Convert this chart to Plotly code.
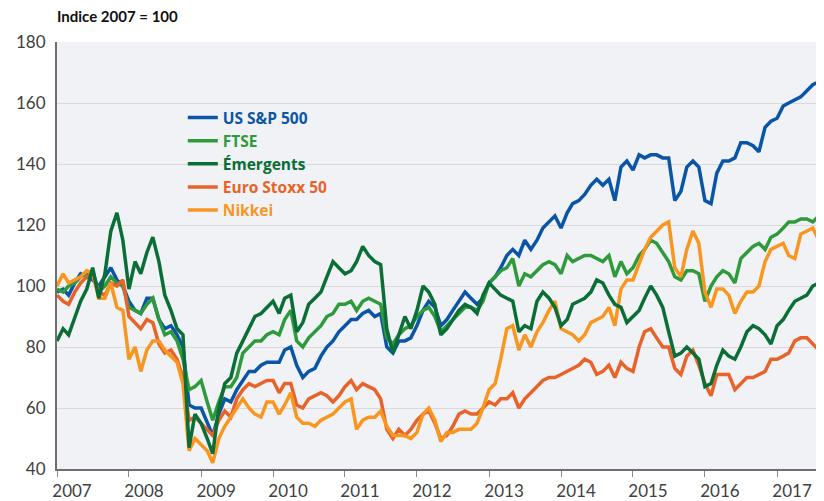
import pandas as pd
import plotly.graph_objects as go

# Monthly observations, Jan 2007 .. Aug 2017 (index 2007 = 100)
dates = pd.date_range("2007-01-01", periods=128, freq="MS")

sp500 = [
    98, 99, 97, 101, 104, 103, 102, 100, 103, 106, 102, 100,
    95, 92, 91, 96, 96, 89, 86, 87, 84, 80, 61, 60,
    60, 55, 51, 58, 63, 62, 66, 69, 72, 72, 74, 75,
    75, 75, 79, 80, 74, 70, 72, 73, 77, 80, 82, 85,
    87, 89, 89, 91, 92, 90, 91, 80, 78, 82, 82, 83,
    87, 92, 95, 93, 87, 89, 92, 95, 98, 96, 94, 96,
    101, 103, 106, 110, 112, 110, 115, 112, 115, 119, 121, 123,
    119, 124, 127, 128, 130, 133, 135, 133, 135, 128, 139, 141,
    138, 143, 142, 143, 143, 142, 142, 128, 131, 139, 141, 139,
    128, 127, 137, 141, 141, 142, 147, 147, 146, 144, 152, 154,
    155, 159, 160, 161, 162, 164, 166, 167,
]
ftse = [
    99, 98, 100, 101, 103, 104, 105, 98, 100, 103, 101, 100,
    93, 92, 91, 94, 96, 89, 84, 85, 82, 76, 66, 67,
    69, 62, 56, 62, 67, 67, 70, 78, 80, 82, 82, 84,
    85, 84, 89, 92, 82, 80, 83, 85, 87, 90, 91, 94,
    94, 95, 92, 95, 96, 95, 94, 83, 81, 84, 86, 87,
    90, 92, 93, 90, 85, 87, 89, 91, 93, 93, 92, 95,
    101, 103, 105, 106, 109, 100, 104, 103, 105, 107, 108, 107,
    104, 110, 108, 109, 110, 110, 109, 108, 110, 103, 108, 104,
    106, 110, 112, 115, 114, 111, 108, 103, 102, 105, 105, 104,
    95, 100, 103, 105, 104, 101, 109, 111, 113, 114, 112, 116,
    117, 119, 121, 121, 122, 122, 121, 123,
]
emergents = [
    82, 86, 84, 90, 95, 99, 106, 96, 104, 118, 124, 115,
    99, 108, 104, 111, 116, 108, 97, 92, 86, 84, 47, 58,
    55, 50, 45, 60, 68, 70, 78, 82, 86, 90, 91, 93,
    95, 91, 96, 97, 85, 88, 94, 96, 98, 103, 108, 106,
    104, 105, 108, 113, 110, 108, 107, 86, 78, 84, 90, 86,
    92, 100, 98, 94, 84, 86, 89, 92, 94, 93, 91, 97,
    101, 99, 97, 96, 95, 85, 87, 86, 95, 98, 96, 93,
    87, 89, 94, 95, 96, 98, 102, 101, 97, 94, 93, 88,
    90, 92, 96, 100, 97, 93, 85, 77, 78, 80, 78, 76,
    67, 68, 74, 79, 77, 76, 80, 85, 87, 86, 84, 81,
    87, 89, 92, 95, 96, 97, 100, 101,
]
eurostoxx = [
    97, 95, 94, 98, 101, 103, 104, 98, 97, 101, 100, 102,
    90, 88, 86, 89, 88, 81, 78, 79, 76, 70, 56, 57,
    55, 53, 51, 56, 59, 57, 63, 66, 68, 67, 68, 69,
    69, 65, 68, 68, 61, 60, 63, 64, 65, 64, 62, 64,
    67, 69, 66, 68, 67, 66, 63, 53, 50, 53, 51, 53,
    56, 58, 59, 55, 50, 51, 54, 58, 59, 58, 58, 60,
    62, 61, 63, 63, 65, 60, 63, 65, 67, 69, 70, 70,
    71, 72, 73, 74, 76, 75, 71, 72, 74, 70, 75, 73,
    72, 80, 85, 86, 83, 80, 80, 73, 71, 77, 79, 74,
    68, 64, 71, 71, 71, 66, 68, 70, 70, 71, 72, 76,
    76, 77, 78, 82, 83, 83, 81, 79,
]
nikkei = [
    100, 104, 101, 102, 103, 105, 104, 96, 96, 101, 93, 92,
    76, 80, 72, 79, 82, 82, 79, 77, 75, 68, 46, 50,
    48, 46, 42, 50, 54, 57, 60, 63, 60, 58, 57, 62,
    62, 58, 61, 65, 57, 55, 55, 54, 56, 57, 58, 60,
    62, 63, 53, 56, 57, 57, 59, 54, 51, 51, 51, 50,
    52, 58, 60, 56, 49, 52, 52, 53, 53, 53, 55, 60,
    66, 68, 76, 86, 87, 79, 84, 80, 85, 88, 92, 95,
    86, 85, 84, 82, 84, 88, 89, 90, 93, 87, 99, 102,
    102, 107, 112, 116, 118, 120, 121, 106, 103, 112, 118, 114,
    98, 93, 99, 99, 97, 91, 95, 98, 98, 100, 108, 112,
    113, 114, 110, 109, 117, 118, 119, 115,
]

series_names = ["US S&P 500", "FTSE", "Émergents", "Euro Stoxx 50", "Nikkei"]
series_values = [sp500, ftse, emergents, eurostoxx, nikkei]
colors = ["#0b55a6", "#2f9a3c", "#0a6e36", "#e8632a", "#f8961f"]
draw_order = [0, 1, 3, 4, 2]

fig = go.Figure()
for i in draw_order:
    fig.add_trace(go.Scatter(
        x=dates, y=series_values[i], mode="lines",
        name=f"<b><span style='color:{colors[i]}'>{series_names[i]}</span></b>",
        line=dict(color=colors[i], width=3.5),
        legendrank=i + 1,
    ))

# page body has an 8px margin: margins are reduced by 8px to compensate
fig.update_layout(
    width=824, height=501,
    margin=dict(l=41, r=8, t=34, b=39),
    paper_bgcolor="white",
    plot_bgcolor="#f0f2f5",
    font=dict(family="Lato, 'Open Sans', sans-serif", size=17, color="#404040"),
    legend=dict(x=0.164, y=0.862, xanchor="left", yanchor="top",
                bgcolor="rgba(0,0,0,0)",
                font=dict(size=15.5, family="'Open Sans', Lato, sans-serif"),
                itemwidth=30, tracegroupgap=0),
    showlegend=True,
    annotations=[dict(
        text="<b>Indice 2007 = 100</b>", xref="paper", yref="paper",
        x=-0.003, y=1.0607, xanchor="left", yanchor="middle", showarrow=False,
        font=dict(size=15, color="#111111"),
    )],
)
fig.update_xaxes(
    type="date", range=["2007-01-01", "2017-08-27"],
    showgrid=False, zeroline=False,
    showline=True, linecolor="#6e6e6e", linewidth=2,
    ticks="outside", ticklen=6, tickcolor="#8a8a8a", tickwidth=1,
    dtick="M12", tick0="2007-01-01", tickformat="%Y",
    ticklabelshift=15,
)
fig.update_yaxes(
    range=[40, 180], dtick=20, tick0=40,
    showgrid=True, gridcolor="#d9d9db", gridwidth=1, zeroline=False,
    showline=True, linecolor="#6e6e6e", linewidth=2,
    ticks="", ticklabelstandoff=6,
)

fig.write_html("out.html")
